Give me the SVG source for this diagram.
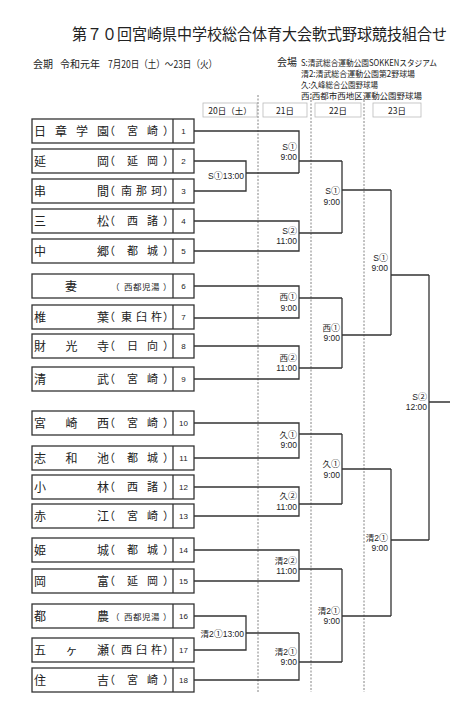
<svg xmlns="http://www.w3.org/2000/svg" width="474" height="716" viewBox="0 0 474 716">
<style>
.jp{font-family:"Noto Sans CJK JP","Liberation Sans",sans-serif;fill:#222}
.nm{font-size:12px}
.rg{font-size:11px}
.rs{font-size:8.5px}
.no{font-family:"Liberation Sans","Noto Sans CJK JP",sans-serif;font-size:8px;text-anchor:middle;fill:#222}
.lb{font-family:"Liberation Sans","Noto Sans CJK JP",sans-serif;font-size:8.5px;text-anchor:end;fill:#222}
.c{font-family:"Noto Sans CJK JP",sans-serif;font-size:9px}
.box{fill:#fff;stroke:#333;stroke-width:1.3}
.dbox{fill:#fff;stroke:#bbb;stroke-width:0.8}
.dt{font-family:"Noto Sans CJK JP","Liberation Sans",sans-serif;font-size:8.5px;text-anchor:middle;fill:#222}
.dash{stroke:#666;stroke-width:0.8;stroke-dasharray:2 1.5;fill:none}
.ln{stroke:#333;stroke-width:1.3;fill:none}
</style>
<rect width="474" height="716" fill="#fff"/>
<g id="title">
<text class="jp" x="72" y="40" font-size="15.5" textLength="375" lengthAdjust="spacingAndGlyphs">第７０回宮崎県中学校総合体育大会軟式野球競技組合せ</text>
</g>
<g id="header">
<text class="jp" x="33" y="68" font-size="10">会期</text>
<text class="jp" x="60" y="68" font-size="10" textLength="40" lengthAdjust="spacingAndGlyphs">令和元年</text>
<text class="jp" x="108" y="68" font-size="10" textLength="109" lengthAdjust="spacingAndGlyphs">7月20日（土）～23日（火）</text>
<text class="jp" x="277" y="66" font-size="10">会場</text>
<text class="jp" x="301" y="66" font-size="8.5" textLength="136" lengthAdjust="spacingAndGlyphs">S:清武総合運動公園SOKKENスタジアム</text>
<text class="jp" x="301" y="77" font-size="8.5" textLength="114" lengthAdjust="spacingAndGlyphs">清2:清武総合運動公園第2野球場</text>
<text class="jp" x="301" y="88" font-size="8.5" textLength="77" lengthAdjust="spacingAndGlyphs">久:久峰総合公園野球場</text>
<text class="jp" x="301" y="99" font-size="8.5" textLength="121" lengthAdjust="spacingAndGlyphs">西:西都市西地区運動公園野球場</text>
</g>
<g id="dates">
<rect class="dbox" x="203" y="103" width="54" height="14"/>
<text class="dt" x="230" y="113.5">20日（土）</text>
<rect class="dbox" x="263" y="103" width="44" height="14"/>
<text class="dt" x="285" y="113.5">21日</text>
<rect class="dbox" x="315" y="103" width="46" height="14"/>
<text class="dt" x="338" y="113.5">22日</text>
<rect class="dbox" x="373" y="103" width="48" height="14"/>
<text class="dt" x="397" y="113.5">23日</text>
</g>
<g id="day-dividers">
<line class="dash" x1="258" y1="95" x2="258" y2="692"/>
<line class="dash" x1="311" y1="93" x2="311" y2="692"/>
<line class="dash" x1="364" y1="100" x2="364" y2="692"/>
</g>
<g id="connectors">
<path class="ln" d="M194 161 H246 V191 H194 M246 173 H299"/>
<path class="ln" d="M194 131 H299 V173 M299 161 H342"/>
<path class="ln" d="M194 221 H299 V251 H194 M299 233 H342"/>
<path class="ln" d="M342 161 V233 M342 190 H391"/>
<path class="ln" d="M194 286 H299 V318 H194 M299 298 H342"/>
<path class="ln" d="M194 346 H299 V379 H194 M299 368 H342"/>
<path class="ln" d="M342 298 V368 M342 335 H391"/>
<path class="ln" d="M391 190 V335 M391 275 H429"/>
<path class="ln" d="M194 423 H299 V458 H194 M299 434 H342"/>
<path class="ln" d="M194 487 H299 V516 H194 M299 504 H342"/>
<path class="ln" d="M342 434 V504 M342 469 H391"/>
<path class="ln" d="M194 550 H299 V581 H194 M299 569 H342"/>
<path class="ln" d="M194 616 H246 V650 H194 M246 633 H299"/>
<path class="ln" d="M194 680 H299 V633 M299 662 H342"/>
<path class="ln" d="M342 569 V662 M342 616 H391"/>
<path class="ln" d="M391 469 V616 M391 540 H429"/>
<path class="ln" d="M429 275 V540 M429 402 H450"/>
</g>
<g id="match-labels">
<text class="lb" x="244" y="179">S<tspan class="c">①</tspan>13:00</text>
<text class="lb" x="297" y="150">S<tspan class="c">①</tspan></text><text class="lb" x="297" y="160">9:00</text>
<text class="lb" x="297" y="234">S<tspan class="c">②</tspan></text><text class="lb" x="297" y="244">11:00</text>
<text class="lb" x="340" y="194">S<tspan class="c">①</tspan></text><text class="lb" x="340" y="205">9:00</text>
<text class="lb" x="388" y="261">S<tspan class="c">①</tspan></text><text class="lb" x="388" y="271">9:00</text>
<text class="lb" x="427" y="400">S<tspan class="c">②</tspan></text><text class="lb" x="427" y="410">12:00</text>
<text class="lb" x="297" y="300">西<tspan class="c">①</tspan></text><text class="lb" x="297" y="311">9:00</text>
<text class="lb" x="297" y="361">西<tspan class="c">②</tspan></text><text class="lb" x="297" y="371">11:00</text>
<text class="lb" x="340" y="331">西<tspan class="c">①</tspan></text><text class="lb" x="340" y="341">9:00</text>
<text class="lb" x="297" y="438">久<tspan class="c">①</tspan></text><text class="lb" x="297" y="448">9:00</text>
<text class="lb" x="297" y="499">久<tspan class="c">②</tspan></text><text class="lb" x="297" y="510">11:00</text>
<text class="lb" x="340" y="467">久<tspan class="c">①</tspan></text><text class="lb" x="340" y="478">9:00</text>
<text class="lb" x="297" y="564">清2<tspan class="c">②</tspan></text><text class="lb" x="297" y="574">11:00</text>
<text class="lb" x="244" y="637">清2<tspan class="c">①</tspan>13:00</text>
<text class="lb" x="297" y="655">清2<tspan class="c">①</tspan></text><text class="lb" x="297" y="665">9:00</text>
<text class="lb" x="340" y="614">清2<tspan class="c">①</tspan></text><text class="lb" x="340" y="624">9:00</text>
<text class="lb" x="388" y="541">清2<tspan class="c">①</tspan></text><text class="lb" x="388" y="551">9:00</text>
</g>
<g id="team1"><rect class="box" x="32" y="119" width="162" height="24"/><line class="ln" x1="173" y1="119" x2="173" y2="143"/>
<text class="jp nm" x="34 55 76 97" y="135.5">日章学園</text><text class="jp rg" x="104 127 147 163" y="135">（宮崎）</text><text class="no" x="183.5" y="134">1</text></g>
<g id="team2"><rect class="box" x="32" y="149" width="162" height="24"/><line class="ln" x1="173" y1="149" x2="173" y2="173"/>
<text class="jp nm" x="34 97" y="165.5">延岡</text><text class="jp rg" x="104 127 147 163" y="165">（延岡）</text><text class="no" x="183.5" y="164">2</text></g>
<g id="team3"><rect class="box" x="32" y="179" width="162" height="24"/><line class="ln" x1="173" y1="179" x2="173" y2="203"/>
<text class="jp nm" x="34 97" y="195.5">串間</text><text class="jp rg" x="104 121 136 151 163" y="195">（南那珂）</text><text class="no" x="183.5" y="194">3</text></g>
<g id="team4"><rect class="box" x="32" y="209" width="162" height="24"/><line class="ln" x1="173" y1="209" x2="173" y2="233"/>
<text class="jp nm" x="34 97" y="225.5">三松</text><text class="jp rg" x="104 127 147 163" y="225">（西諸）</text><text class="no" x="183.5" y="224">4</text></g>
<g id="team5"><rect class="box" x="32" y="239" width="162" height="24"/><line class="ln" x1="173" y1="239" x2="173" y2="263"/>
<text class="jp nm" x="34 97" y="255.5">中郷</text><text class="jp rg" x="104 127 147 163" y="255">（都城）</text><text class="no" x="183.5" y="254">5</text></g>
<g id="team6"><rect class="box" x="32" y="274" width="162" height="24"/><line class="ln" x1="173" y1="274" x2="173" y2="298"/>
<text class="jp nm" x="65" y="290.5">妻</text><text class="jp rs" x="111 124 133 142 151 163" y="289.5">（西都児湯）</text><text class="no" x="183.5" y="289">6</text></g>
<g id="team7"><rect class="box" x="32" y="305" width="162" height="24"/><line class="ln" x1="173" y1="305" x2="173" y2="329"/>
<text class="jp nm" x="34 97" y="321.5">椎葉</text><text class="jp rg" x="104 121 136 151 163" y="321">（東臼杵）</text><text class="no" x="183.5" y="320">7</text></g>
<g id="team8"><rect class="box" x="32" y="334" width="162" height="24"/><line class="ln" x1="173" y1="334" x2="173" y2="358"/>
<text class="jp nm" x="34 65.5 97" y="350.5">財光寺</text><text class="jp rg" x="104 127 147 163" y="350">（日向）</text><text class="no" x="183.5" y="349">8</text></g>
<g id="team9"><rect class="box" x="32" y="367" width="162" height="24"/><line class="ln" x1="173" y1="367" x2="173" y2="391"/>
<text class="jp nm" x="34 97" y="383.5">清武</text><text class="jp rg" x="104 127 147 163" y="383">（宮崎）</text><text class="no" x="183.5" y="382">9</text></g>
<g id="team10"><rect class="box" x="32" y="411" width="162" height="24"/><line class="ln" x1="173" y1="411" x2="173" y2="435"/>
<text class="jp nm" x="34 65.5 97" y="427.5">宮崎西</text><text class="jp rg" x="104 127 147 163" y="427">（宮崎）</text><text class="no" x="183.5" y="426">10</text></g>
<g id="team11"><rect class="box" x="32" y="446" width="162" height="24"/><line class="ln" x1="173" y1="446" x2="173" y2="470"/>
<text class="jp nm" x="34 65.5 97" y="462.5">志和池</text><text class="jp rg" x="104 127 147 163" y="462">（都城）</text><text class="no" x="183.5" y="461">11</text></g>
<g id="team12"><rect class="box" x="32" y="475" width="162" height="24"/><line class="ln" x1="173" y1="475" x2="173" y2="499"/>
<text class="jp nm" x="34 97" y="491.5">小林</text><text class="jp rg" x="104 127 147 163" y="491">（西諸）</text><text class="no" x="183.5" y="490">12</text></g>
<g id="team13"><rect class="box" x="32" y="504" width="162" height="24"/><line class="ln" x1="173" y1="504" x2="173" y2="528"/>
<text class="jp nm" x="34 97" y="520.5">赤江</text><text class="jp rg" x="104 127 147 163" y="520">（宮崎）</text><text class="no" x="183.5" y="519">13</text></g>
<g id="team14"><rect class="box" x="32" y="538" width="162" height="24"/><line class="ln" x1="173" y1="538" x2="173" y2="562"/>
<text class="jp nm" x="34 97" y="554.5">姫城</text><text class="jp rg" x="104 127 147 163" y="554">（都城）</text><text class="no" x="183.5" y="553">14</text></g>
<g id="team15"><rect class="box" x="32" y="569" width="162" height="24"/><line class="ln" x1="173" y1="569" x2="173" y2="593"/>
<text class="jp nm" x="34 97" y="585.5">岡富</text><text class="jp rg" x="104 127 147 163" y="585">（延岡）</text><text class="no" x="183.5" y="584">15</text></g>
<g id="team16"><rect class="box" x="32" y="604" width="162" height="24"/><line class="ln" x1="173" y1="604" x2="173" y2="628"/>
<text class="jp nm" x="34 97" y="620.5">都農</text><text class="jp rs" x="111 124 133 142 151 163" y="619.5">（西都児湯）</text><text class="no" x="183.5" y="619">16</text></g>
<g id="team17"><rect class="box" x="32" y="638" width="162" height="24"/><line class="ln" x1="173" y1="638" x2="173" y2="662"/>
<text class="jp nm" x="34 65.5 97" y="654.5">五ヶ瀬</text><text class="jp rg" x="104 121 136 151 163" y="654">（西臼杵）</text><text class="no" x="183.5" y="653">17</text></g>
<g id="team18"><rect class="box" x="32" y="668" width="162" height="24"/><line class="ln" x1="173" y1="668" x2="173" y2="692"/>
<text class="jp nm" x="34 97" y="684.5">住吉</text><text class="jp rg" x="104 127 147 163" y="684">（宮崎）</text><text class="no" x="183.5" y="683">18</text></g>
</svg>
